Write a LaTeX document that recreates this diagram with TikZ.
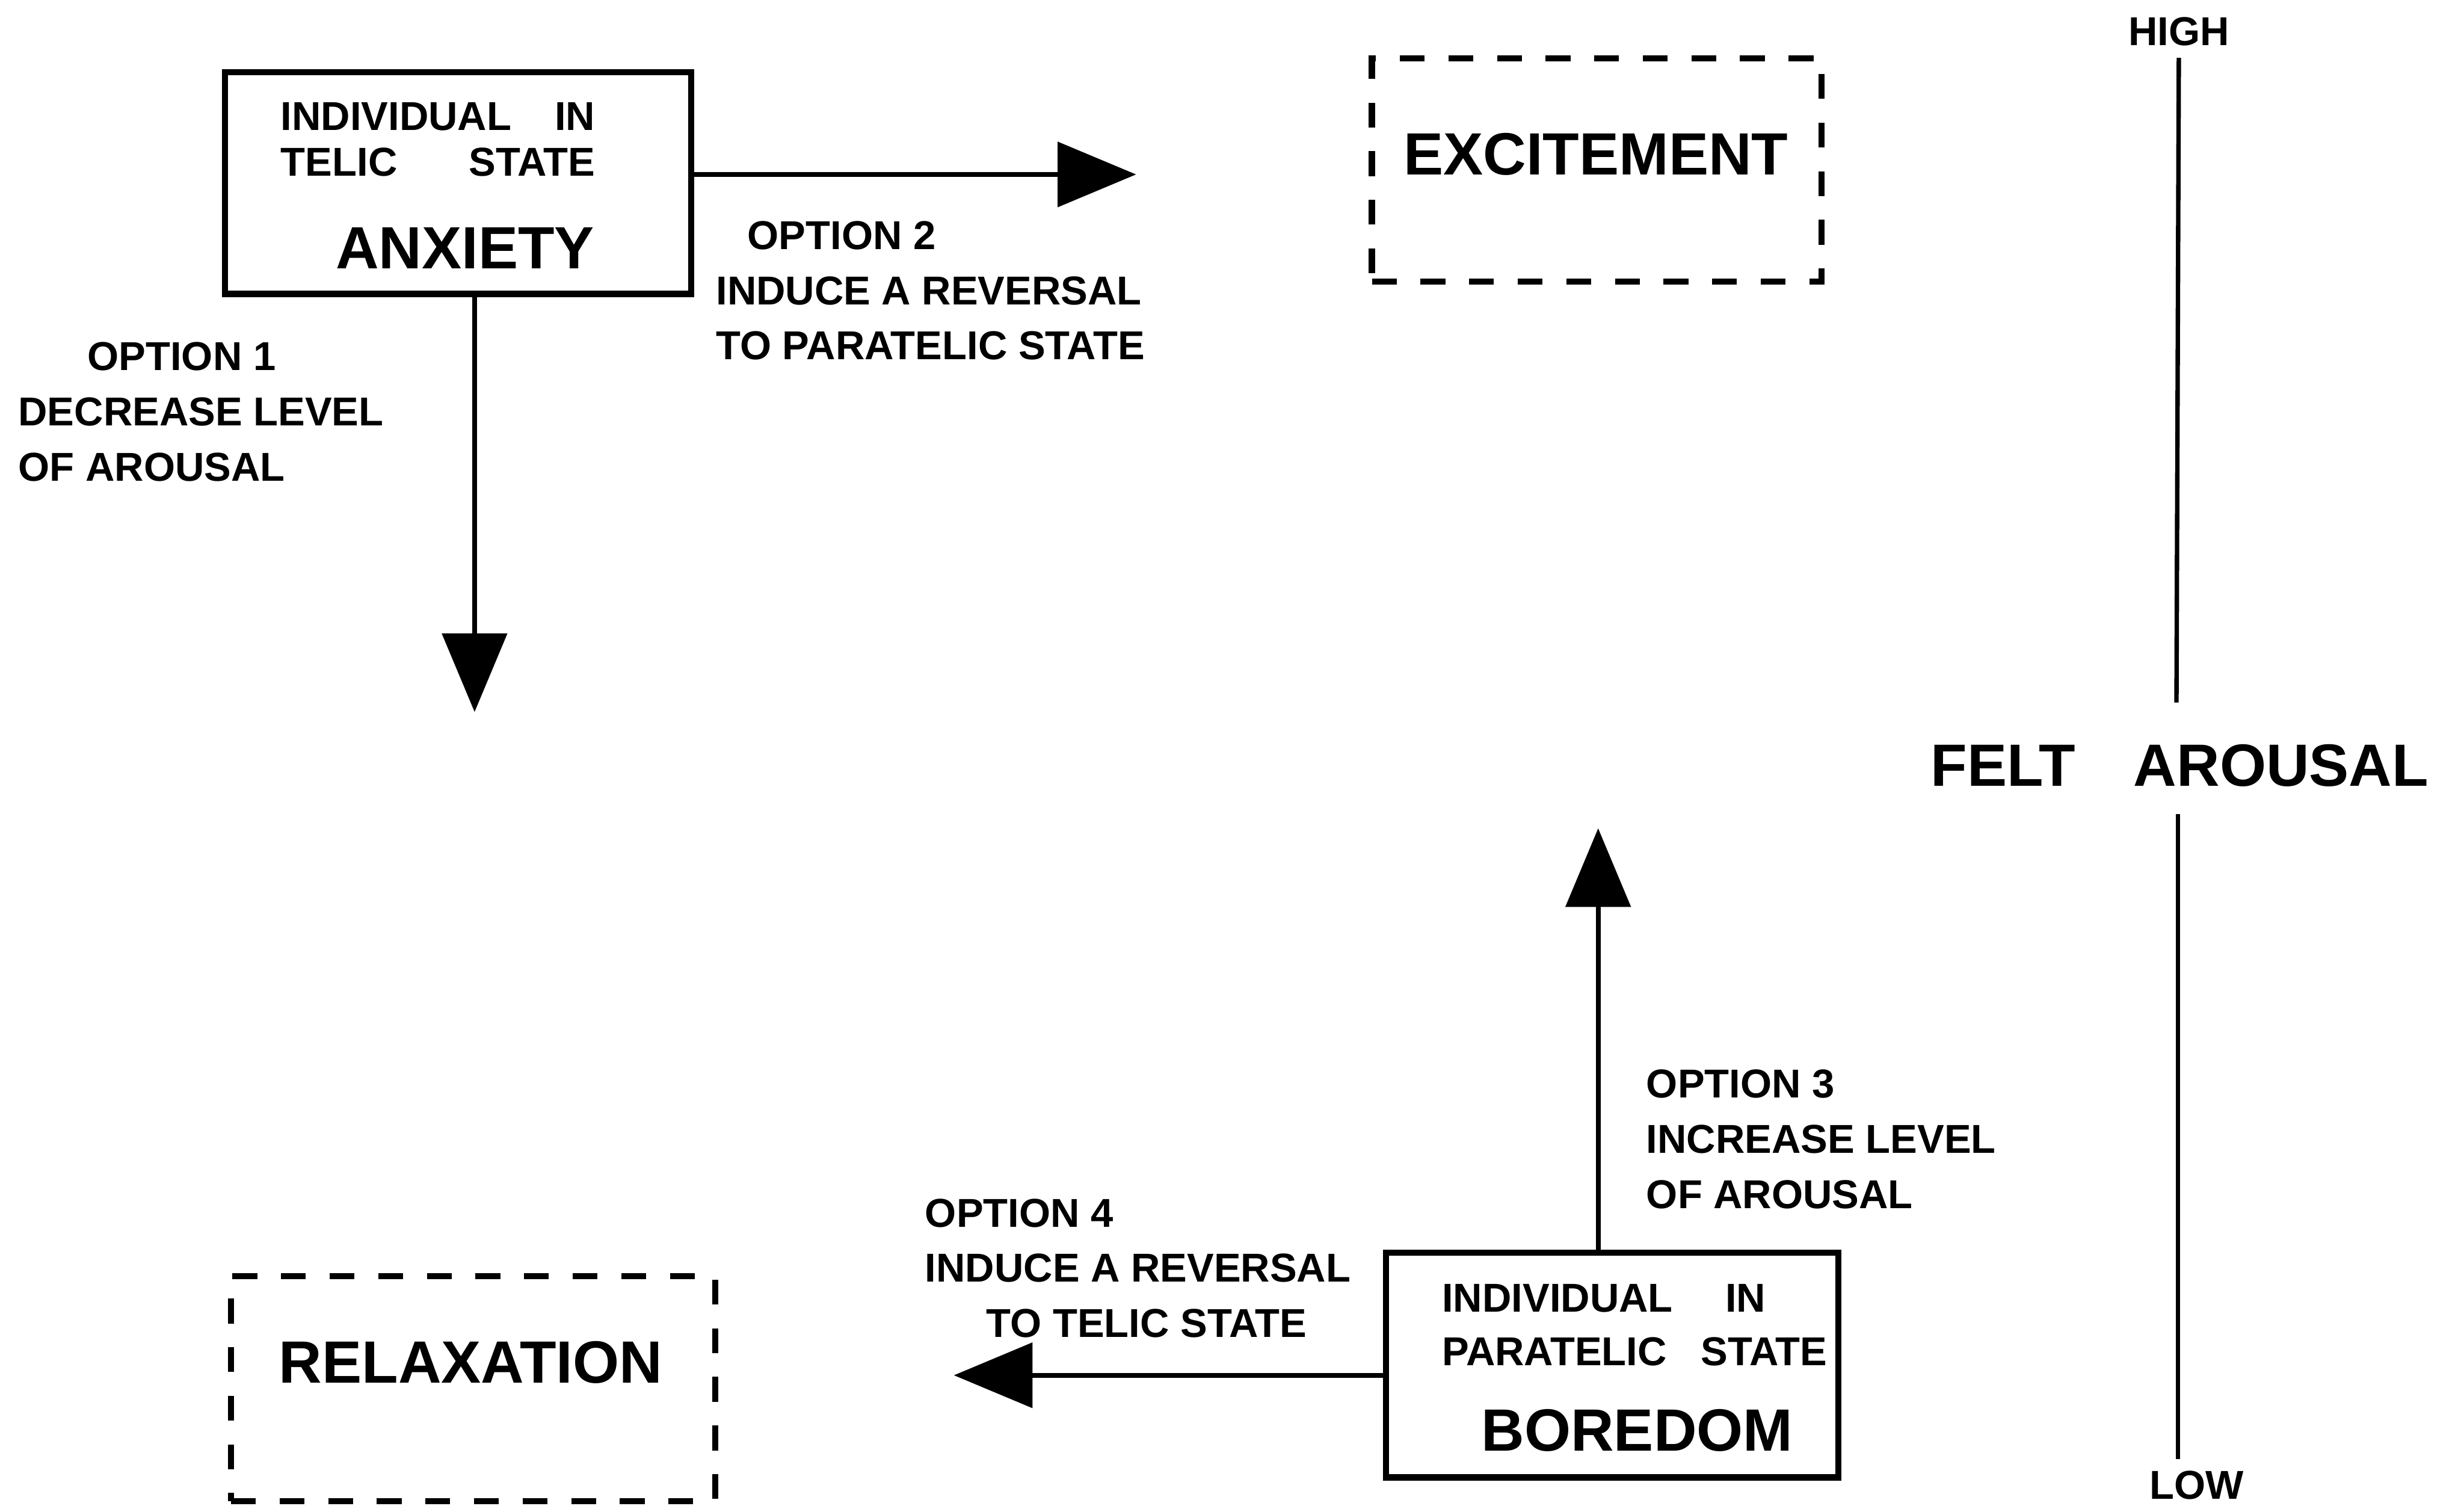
\documentclass[tikz,border=0pt]{standalone}
\usepackage{fontspec}
\setmainfont{Liberation Sans}
\usepackage{tikz}
\usetikzlibrary{positioning}
\usetikzlibrary{arrows.meta}
\tikzset{>=latex}
\tikzstyle{statebox}=[draw,line width=1.1pt,inner sep=0pt]
\tikzstyle{goalbox}=[draw,line width=1.1pt,dash pattern=on 4.5pt off 4.3pt,inner sep=0pt]
\tikzstyle{lbl}=[font=\bfseries\fontsize{7.3}{10}\selectfont,inner sep=0pt,align=left]
\tikzstyle{bigtxt}=[font=\bfseries\fontsize{10.8}{13}\selectfont,inner sep=0pt]
\tikzstyle{option}=[-{Triangle[length=5mm,width=4.1mm]},line width=0.9pt]
\tikzstyle{axis}=[line width=0.8pt]

\begin{document}
\begin{tikzpicture}

\useasboundingbox (0,0) rectangle (15.68,9.58);

% Telic state
\node[statebox,minimum width=2.97cm,minimum height=1.41cm] (anx) at (2.915,8.415) {};
\node[lbl,anchor=west] (anx1) at (1.78,8.84) {\makebox[2cm][s]{INDIVIDUAL\hfill IN}};
\node[lbl,anchor=west] (anx2) at (1.78,8.55) {\makebox[2cm][s]{TELIC\hfill STATE}};
\node[bigtxt,anchor=west] (anx3) at (2.13,8.00) {ANXIETY};

% Paratelic state
\node[statebox,minimum width=2.88cm,minimum height=1.43cm] (bor) at (10.26,0.895) {};
\node[lbl,anchor=west] (bor1) at (9.17,1.32) {\makebox[2.06cm][s]{INDIVIDUAL\hfill IN}};
\node[lbl,anchor=west] (bor2) at (9.17,0.98) {\makebox[2.45cm][s]{PARATELIC\hfill STATE}};
\node[bigtxt,anchor=west] (bor3) at (9.42,0.48) {BOREDOM};

% Goal states (dashed)
\node[goalbox,minimum width=2.86cm,minimum height=1.42cm] (exc) at (10.16,8.50) {};
\node[bigtxt] (exctxt) at (10.155,8.60) {EXCITEMENT};
\node[goalbox,minimum width=3.08cm,minimum height=1.43cm] (rel) at (3.01,0.745) {};
\node[bigtxt] (reltxt) at (2.995,0.91) {RELAXATION};

% Options
\coordinate (opt1end) at (3.02,5.05);
\draw[option] (anx.south -| opt1end) -- (opt1end);
\node[lbl,anchor=north west] (opt1) at (0.11,7.41)
  {\hspace*{0.44cm}OPTION 1\\DECREASE LEVEL\\OF AROUSAL};

\coordinate (opt2end) at (7.23,8.47);
\draw[option] (anx.east |- opt2end) -- (opt2end);
\node[lbl,anchor=north west] (opt2) at (4.55,8.18)
  {\hspace*{0.2cm}OPTION 2\\INDUCE A REVERSAL\\TO PARATELIC STATE};

\coordinate (opt3end) at (10.17,4.31);
\draw[option] (bor.north -| opt3end) -- (opt3end);
\node[lbl,anchor=north west] (opt3) at (10.47,2.78)
  {OPTION 3\\INCREASE LEVEL\\OF AROUSAL};

\coordinate (opt4end) at (6.07,0.83);
\draw[option] (bor.west |- opt4end) -- (opt4end);
\node[lbl,anchor=north west] (opt4) at (5.88,1.96)
  {OPTION 4\\INDUCE A REVERSAL\\\hspace*{0.39cm}TO TELIC STATE};

% Felt arousal scale
\node[lbl,inner sep=2pt] (high) at (13.865,9.38) {HIGH};
\node[lbl,inner sep=2pt] (low) at (13.98,0.13) {LOW};
\node[bigtxt,anchor=west] (arousal) at (12.28,4.71) {FELT\hspace{0.37cm}AROUSAL};
\coordinate (axhi) at (13.85,5.11);
\coordinate (axlo) at (13.86,4.40);
\draw[axis] (high.south) -- (axhi);
\draw[axis] (axlo) -- (axlo |- low.north);

\end{tikzpicture}
\end{document}
